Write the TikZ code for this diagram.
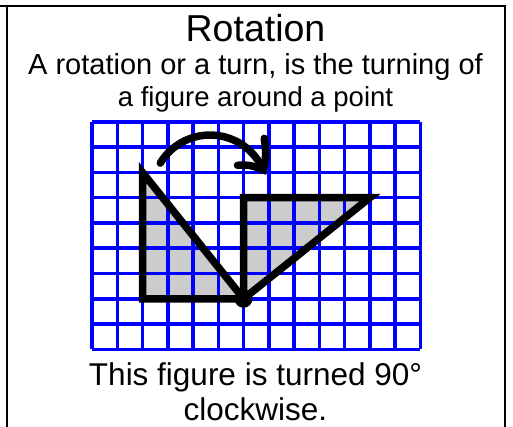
\documentclass[tikz,border=0pt]{standalone}
\usepackage{fontspec}
\setmainfont{Liberation Sans}
\usetikzlibrary{arrows.meta,bending}

\begin{document}
\begin{tikzpicture}[
  x=1pt,y=-1pt,
  frame/.style={line width=2pt},
  gridline/.style={blue,line width=3.5pt},
  figfill/.style={fill=black!20},
  outline/.style={line width=7.5pt},
  turn/.style={line width=7.5pt,line cap=round,-{Straight Barb[length=22pt,width=38pt,line cap=round,bend]}},
  headtxt/.style={anchor=base,inner sep=0pt,font=\fontsize{37.5}{40}\selectfont},
  bodytxt/.style={anchor=base,inner sep=0pt,font=\fontsize{29}{33}\selectfont}
]
\useasboundingbox (0,0) rectangle (513,427);

% frame
\draw[frame] (0,6) -- (504.5,6) -- (504.5,427);
\draw[frame] (7,6) -- (7,427);

% texts
\node[headtxt] (title) at (255.5,42) {Rotation};
\node[bodytxt] (def1) at (255.5,75) {A rotation or a turn, is the turning of};
\node[bodytxt,font=\fontsize{27.5}{33}\selectfont] (def2) at (255.5,107) {a figure around a point};
\node[bodytxt,font=\fontsize{31.5}{36}\selectfont] (note1) at (255.5,385) {This figure is turned 90°};
\node[bodytxt,font=\fontsize{31.5}{36}\selectfont] (note2) at (255.5,420.5) {clockwise.};

% grid and figures
\begin{scope}[shift={(92,122)},x=25.25pt,y=-25.25pt]
  \coordinate (A) at (2,2);
  \coordinate (B) at (2,7);
  \coordinate (P) at (6,7);
  \coordinate (A') at (11,3);
  \coordinate (B') at (6,3);
  \fill[figfill] (A) -- (B) -- (P) -- cycle;
  \fill[figfill] (P) -- (B') -- (A') -- cycle;
  \foreach \i in {0,...,13}
    \draw[gridline] (\i,0) -- (\i,9);
  \foreach \j in {0,...,9}
    \draw[gridline] (0,\j) -- (13,\j);
  \draw[outline] (A) -- (B) -- (P) -- cycle;
  \draw[outline] (P) -- (B') -- (A') -- cycle;
  \fill (P) circle[radius=9pt];
\end{scope}

% turning arrow
\draw[turn] (210,193) ++(-149:58) arc[start angle=-149,end angle=-18,radius=58];
\end{tikzpicture}
\end{document}
